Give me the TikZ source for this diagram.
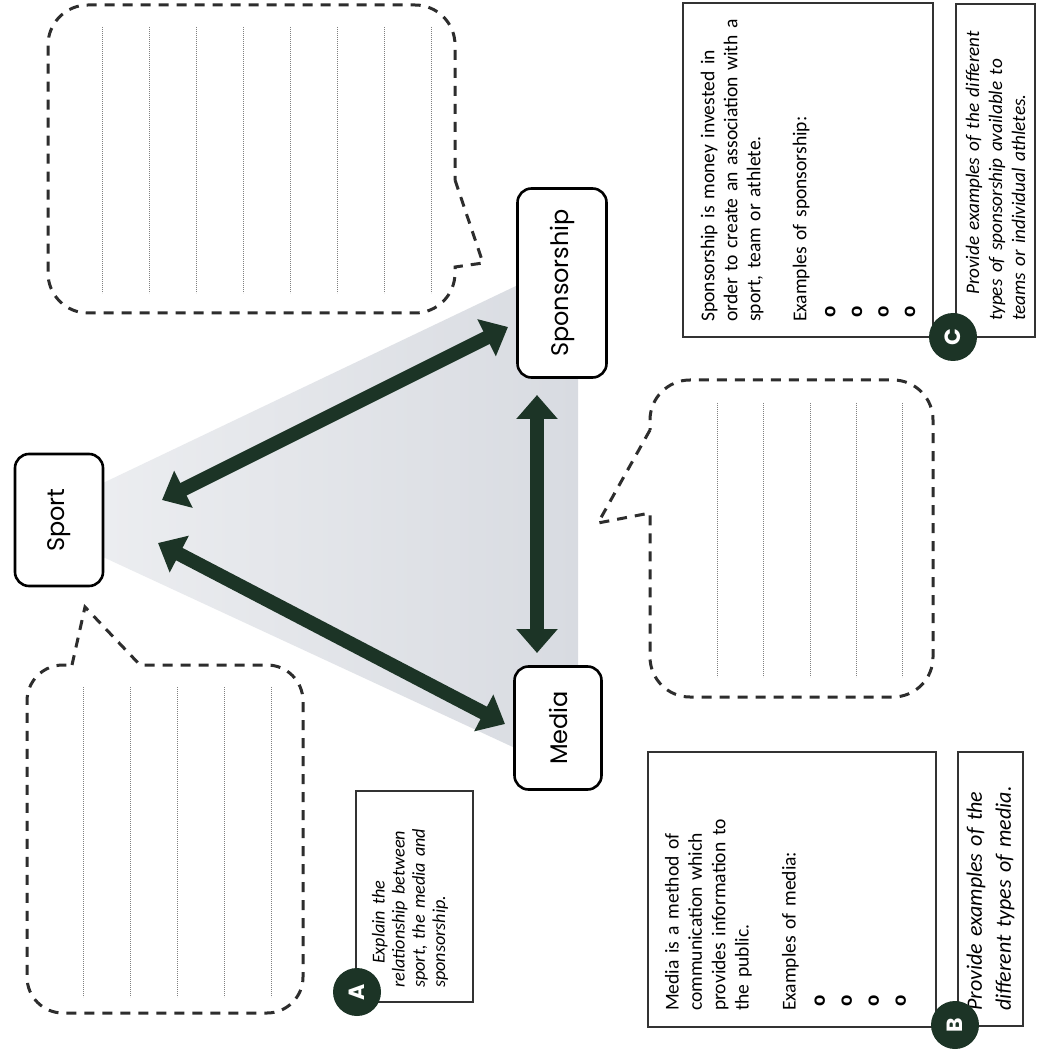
\documentclass[tikz,border=0pt]{standalone}
\usepackage{fontspec}
\setmainfont{Carlito}
\newfontfamily\roundfont{Poppins}
\usetikzlibrary{arrows.meta}
\definecolor{arrowgreen}{RGB}{28,52,38}
\definecolor{trianglegray}{RGB}{216,219,225}
\definecolor{dashgray}{RGB}{45,45,45}
\newcommand{\ringmark}{\hspace*{2pt}{\fontsize{10.5}{11}\selectfont\bfseries o}}

\begin{document}
\begin{tikzpicture}[
		x=0.5pt, y=-0.5pt,
		main/.style = {draw, rounded corners=7pt, line width=1.3pt, fill=white, rotate=90, inner sep=2pt, font=\roundfont\fontsize{12}{14}\selectfont},
		link/.style = {{Triangle[width=20pt,length=12pt]}-{Triangle[width=20pt,length=12pt]}, line width=7pt, draw=arrowgreen},
		bubble/.style = {draw=dashgray, line width=1.5pt, dash pattern=on 5pt off 4pt},
		writeline/.style = {draw=gray, line width=0.5pt, dash pattern=on 0.4pt off 0.6pt},
		infobox/.style = {draw=black!80, line width=1.1pt, fill=white, rotate=90, anchor=north west, align=left, font=\fontsize{9.8}{11.7}\selectfont},
		taskbox/.style = {infobox, font=\itshape\fontsize{9.6}{11.5}\selectfont},
		badge/.style = {circle, fill=arrowgreen, text=white, minimum size=24pt, inner sep=0pt, rotate=90, font=\roundfont\bfseries\fontsize{11}{11}\selectfont}
	]
	\useasboundingbox[fill=white] (0,0) rectangle (1042,1052);
	% Shaded triangle.
	\shade[left color=trianglegray!50, right color=trianglegray] (103,483) -- (518,285) -- (578,285) -- (578,780) -- (515,748) -- (103,557) -- cycle;
	
	% Speech bubbles.
	\draw[bubble] (455,180) -- (483,263) -- (455,267) [rounded corners=20pt] -- (455,313) -- (48,313) -- (48,5) -- (455,5) -- (455,180);
	\foreach \x in {102,149,196,243,290,337,384,431}
		\draw[writeline] (\x,27) -- (\x,293);
	\draw[bubble] (72,665) -- (85,607) -- (140,665) [rounded corners=18pt] -- (303,665) -- (303,1013) -- (27,1013) -- (27,665) -- (72,665);
	\foreach \x in {83,130,177,224,271}
		\draw[writeline] (\x,687) -- (\x,997);
	\draw[bubble] (650,430) -- (598,523) -- (650,513) [rounded corners=20pt] -- (650,697) -- (933,697) -- (933,380) -- (650,380) -- (650,430);
	\foreach \x in {717,763,810,856,902}
		\draw[writeline] (\x,403) -- (\x,677);
	
	% Main nodes.
	\node[main, minimum width=66pt, minimum height=44pt] (sport) at (59,520) {Sport};
	\node[main, minimum width=94.5pt, minimum height=44.5pt] (spons) at (562,283) {Sponsorship};
	\node[main, minimum width=61.5pt, minimum height=43.5pt] (media) at (558,728) {Media};
	
	\draw[link] ([shift={(103,-20)}]sport.center) -- ([shift={(-54,44)}]spons.center);
	\draw[link] ([shift={(99,23)}]sport.center) -- ([shift={(-53,-4)}]media.center);
	\draw[link] ([shift={(-25,112)}]spons.center) -- ([shift={(-21,-75)}]media.center);
	
	% Task A.
	\node[taskbox, minimum width=105.5pt, minimum height=58.5pt, text width=91.5pt, inner xsep=7pt, font=\itshape\fontsize{9.1}{10.1}\selectfont] (taskA) at (355,1003) {\hspace*{12pt}Explain the\\ relationship between\\ sport, the media and\\ sponsorship.\\[-4pt]\mbox{}};
	\node[badge] (badgeA) at (357,992) {A};
	
	% Task B.
	\node[infobox, minimum width=137.5pt, minimum height=144pt, text width=121.5pt, inner xsep=8pt] (infoB) at (647,1028) {Media is a method of\\ communication which\\ provides information to\\ the public.\\[11.7pt] Examples of media:\\[3pt] \ringmark\\[1.8pt] \ringmark\\[1.8pt] \ringmark\\[1.8pt] \ringmark\\[-5pt]\mbox{}};
	\node[taskbox, minimum width=137pt, minimum height=32.5pt, text width=122pt, inner xsep=7.5pt, font=\itshape\fontsize{11}{14.5}\selectfont] (taskB) at (957,1027) {Provide examples of the\\ different types of media.};
	\node[badge] (badgeB) at (955,1025) {B};
	
	% Task C.
	\node[infobox, minimum width=167pt, minimum height=125pt, text width=152pt, inner xsep=7.5pt, font=\fontsize{9.8}{11.5}\selectfont] (infoC) at (682,338) {Sponsorship is money invested in\\ order to create an association with a\\ sport, team or athlete.\\[11.5pt] Examples of sponsorship:\\[3pt] \ringmark\\[1.8pt] \ringmark\\[1.8pt] \ringmark\\[1.8pt] \ringmark};
	\node[taskbox, minimum width=166.5pt, minimum height=39.5pt, text width=150.5pt, inner xsep=8pt] (taskC) at (955,338) {\hspace*{13pt}Provide examples of the different\\ types of sponsorship available to\\ teams or individual athletes.};
	\node[badge] (badgeC) at (953,337) {C};
\end{tikzpicture}
\end{document}
